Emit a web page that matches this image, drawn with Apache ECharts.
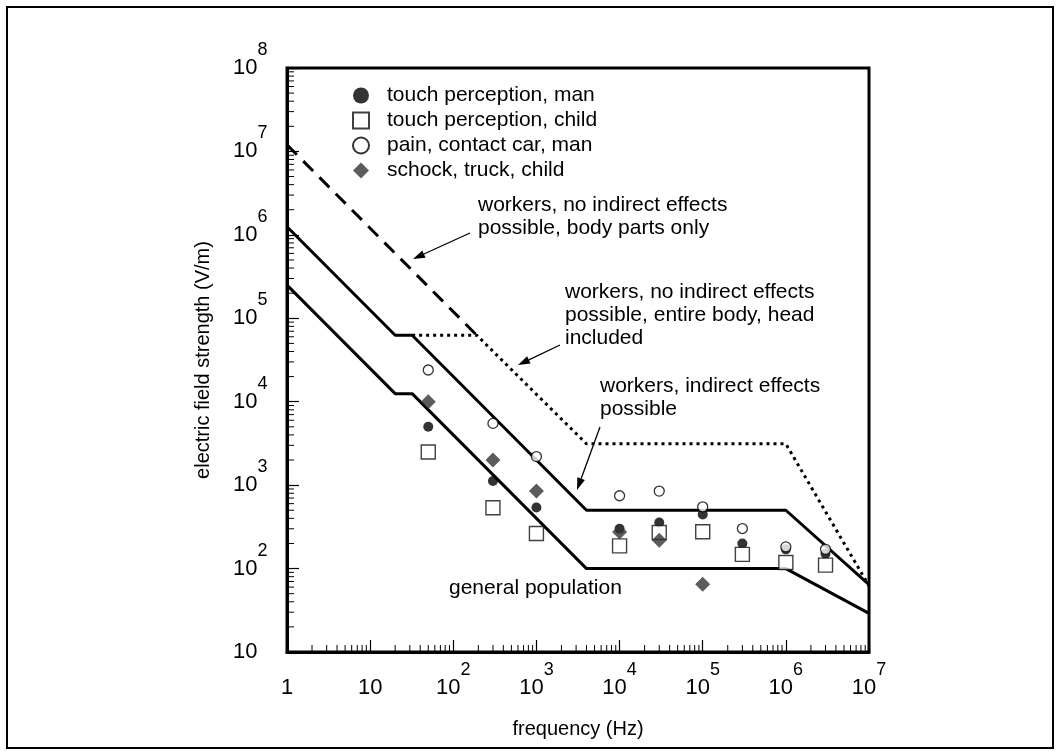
<!DOCTYPE html>
<html>
<head>
<meta charset="utf-8">
<script src="https://cdn.jsdelivr.net/npm/echarts@6/dist/echarts.min.js"></script>
<style>
html, body { margin: 0; padding: 0; background: #fff; }
#chart { width: 1056px; height: 751px; }
</style>
</head>
<body>
<div id="chart"></div>
<script>
// measured points (frequency in Hz, field in V/m)
var freqs = [50, 300, 1000, 1e4, 3e4, 1e5, 3e5, 1e6, 3e6];
var touchMan = [5000, 1120, 540, 300, 357, 446, 200, 170, 151];
var touchChild = [2500, 535, 263, 187, 271, 276, 148, 118, 110];
var painCarMan = [24000, 5500, 2200, 746, 848, 550, 302, 182, 170];
var shockFreqs = [50, 300, 1000, 1e4, 3e4, 1e5];
var shockTruckChild = [10000, 2000, 850, 275, 219, 65];

// limit curves
var generalFreqs = [1, 20, 32, 4000, 1e6, 1e7];
var generalLimit = [2.5e5, 1.25e4, 1.25e4, 100, 100, 29];
var indirectFreqs = [1, 20, 32, 4000, 1e6, 1e7];
var indirectLimit = [1.25e6, 6.25e4, 6.25e4, 500, 500, 64];
var bodyPartsFreqs = [1, 192];
var bodyPartsLimit = [1.2e7, 6.25e4];
var entireBodyFreqs = [32, 192, 4000, 1e6, 1e7];
var entireBodyLimit = [6.25e4, 6.25e4, 3125, 3125, 62];

// minor tick multipliers inside each decade
var minorSteps = [2, 3, 4, 5, 6, 7, 8, 9];
var xDecadeStarts = [1, 10, 100, 1e3, 1e4, 1e5, 1e6];
var yDecadeStarts = [10, 100, 1e3, 1e4, 1e5, 1e6, 1e7];

var legendNames = ['touch perception, man', 'touch perception, child', 'pain, contact car, man', 'schock, truck, child'];

var FONT = '"Liberation Sans", Arial, sans-serif';

function pairs(xs, ys) {
    return xs.map(function (x, i) { return [x, ys[i]]; });
}
function minorValues(starts) {
    var out = [];
    starts.forEach(function (s) {
        minorSteps.forEach(function (m) { out.push(s * m); });
    });
    return out;
}
function powLabel(v) {
    var e = Math.round(Math.log10(v));
    if (e === 0) return '{b|1}';
    if (e === 1) return '{b|10}';
    return '{b|10}{s|' + e + '}';
}
var labelRich = {
    b: { fontSize: 22, lineHeight: 22, fontFamily: FONT, color: '#000', padding: [16, 0, 16, 0] },
    s: { fontSize: 18, lineHeight: 18, fontFamily: FONT, color: '#000', padding: [0, 0, 36, 0] }
};

function arrow(x1, y1, x2, y2) {
    var ang = Math.atan2(y2 - y1, x2 - x1), len = 12, w = 4;
    var bx = x2 - len * Math.cos(ang), by = y2 - len * Math.sin(ang);
    var nx = -Math.sin(ang) * w, ny = Math.cos(ang) * w;
    return [{
        type: 'line',
        shape: { x1: x1, y1: y1, x2: bx, y2: by },
        style: { stroke: '#000', lineWidth: 1.3 }
    }, {
        type: 'polygon',
        shape: { points: [[x2, y2], [bx + nx, by + ny], [bx - nx, by - ny]] },
        style: { fill: '#000' }
    }];
}
function note(x, y, text) {
    return {
        type: 'text',
        style: { x: x, y: y, text: text, font: '21px ' + FONT, fill: '#000', lineHeight: 23, verticalAlign: 'top' }
    };
}

var chart = echarts.init(document.getElementById('chart'));

var limitLine = function (name, data, type) {
    return {
        name: name,
        type: 'line',
        data: data,
        symbol: 'none',
        silent: true,
        lineStyle: { color: '#000', width: 3, type: type, cap: 'butt' },
        z: 3
    };
};

var option = {
    animation: false,
    backgroundColor: '#fff',
    grid: {
        left: 287, right: 187, top: 68, bottom: 99,
        show: true, borderColor: '#000', borderWidth: 3
    },
    legend: {
        orient: 'vertical',
        left: 347,
        top: 80,
        itemWidth: 16,
        itemHeight: 16,
        itemGap: 4,
        selectedMode: false,
        textStyle: { fontSize: 21, lineHeight: 21, fontFamily: FONT, color: '#000', padding: [0, 0, 0, 13] },
        data: legendNames
    },
    xAxis: {
        type: 'log',
        logBase: 10,
        min: 1,
        max: 1e7,
        splitNumber: 7,
        name: 'frequency (Hz)',
        nameLocation: 'middle',
        nameGap: 48,
        nameTextStyle: { fontSize: 20, fontFamily: FONT, color: '#000' },
        axisLine: { lineStyle: { color: '#000', width: 3 } },
        axisTick: { inside: true, length: 12, lineStyle: { color: '#000', width: 1.2 } },
        axisLabel: { margin: 25, formatter: powLabel, rich: labelRich },
        splitLine: { show: false }
    },
    yAxis: {
        type: 'log',
        logBase: 10,
        min: 10,
        max: 1e8,
        splitNumber: 7,
        name: 'electric field strength (V/m)',
        nameLocation: 'middle',
        nameGap: 74,
        nameRotate: 90,
        nameTextStyle: { fontSize: 20, fontFamily: FONT, color: '#000' },
        axisLine: { lineStyle: { color: '#000', width: 3 } },
        axisTick: { inside: true, length: 12, lineStyle: { color: '#000', width: 1.2 } },
        axisLabel: { margin: 54, align: 'left', formatter: powLabel, rich: labelRich },
        splitLine: { show: false }
    },
    series: [
        limitLine('general population', pairs(generalFreqs, generalLimit), 'solid'),
        limitLine('workers, indirect effects possible', pairs(indirectFreqs, indirectLimit), 'solid'),
        limitLine('body parts only', pairs(bodyPartsFreqs, bodyPartsLimit), [14, 9]),
        limitLine('entire body', pairs(entireBodyFreqs, entireBodyLimit), [3, 4]),
        {
            name: legendNames[0],
            type: 'scatter',
            data: pairs(freqs, touchMan),
            symbol: 'circle',
            symbolSize: 10,
            itemStyle: { color: '#000' },
            z: 4
        },
        {
            name: legendNames[1],
            type: 'scatter',
            data: pairs(freqs, touchChild),
            symbol: 'rect',
            symbolSize: 14,
            itemStyle: { color: '#fff', borderColor: '#111', borderWidth: 1.4 },
            z: 4
        },
        {
            name: legendNames[2],
            type: 'scatter',
            data: pairs(freqs, painCarMan),
            symbol: 'circle',
            symbolSize: 10,
            itemStyle: { color: '#fff', borderColor: '#000', borderWidth: 1.3 },
            z: 4
        },
        {
            name: legendNames[3],
            type: 'scatter',
            data: pairs(shockFreqs, shockTruckChild),
            symbol: 'diamond',
            symbolSize: 15,
            itemStyle: { color: '#333' },
            z: 4
        },
        {
            // minor ticks along the frequency axis
            type: 'custom',
            silent: true,
            clip: false,
            data: minorValues(xDecadeStarts).map(function (v) { return [v, 10]; }),
            renderItem: function (params, api) {
                var p = api.coord([api.value(0), api.value(1)]);
                return { type: 'line', shape: { x1: p[0], y1: p[1], x2: p[0], y2: p[1] - 7 },
                    style: { stroke: '#000', lineWidth: 1 } };
            },
            z: 5
        },
        {
            // minor ticks along the field axis
            type: 'custom',
            silent: true,
            clip: false,
            data: minorValues(yDecadeStarts).map(function (v) { return [1, v]; }),
            renderItem: function (params, api) {
                var p = api.coord([api.value(0), api.value(1)]);
                return { type: 'line', shape: { x1: p[0], y1: p[1], x2: p[0] + 7, y2: p[1] },
                    style: { stroke: '#000', lineWidth: 1 } };
            },
            z: 5
        }
    ],
    graphic: [
        { type: 'rect', shape: { x: 7, y: 7, width: 1046, height: 741 }, style: { fill: 'none', stroke: '#000', lineWidth: 2 } },
        note(478, 194, 'workers, no indirect effects\npossible, body parts only'),
        note(565, 281, 'workers, no indirect effects\npossible, entire body, head\nincluded'),
        note(600, 375, 'workers, indirect effects\npossible'),
        note(449, 577, 'general population')
    ].concat(arrow(470, 233, 413, 259))
     .concat(arrow(560, 345, 518, 365))
     .concat(arrow(600, 427, 577, 490))
};

chart.setOption(option);
</script>
</body>
</html>
